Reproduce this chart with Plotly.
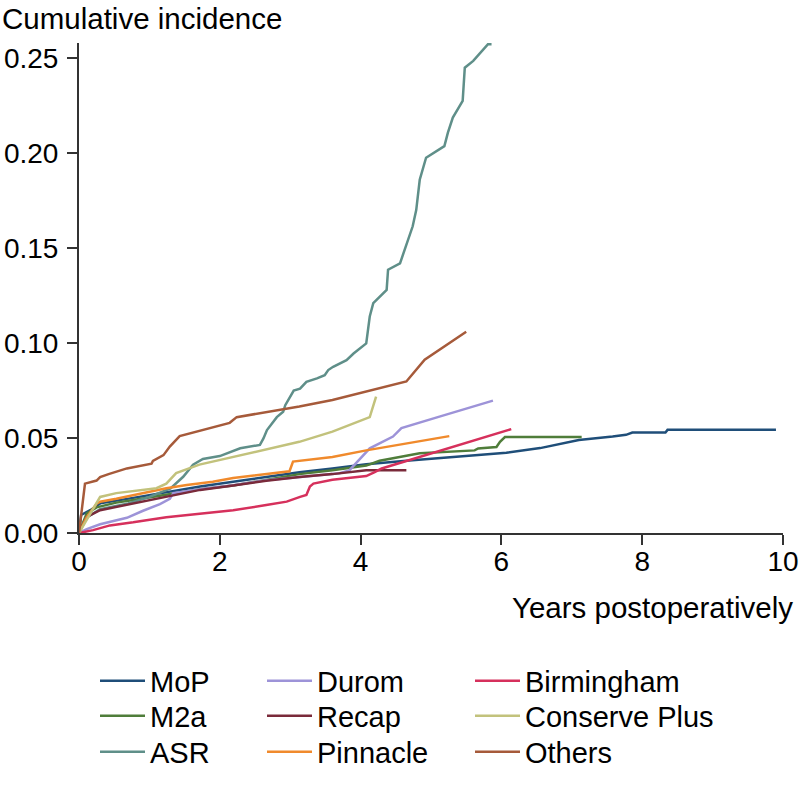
import plotly.graph_objects as go

# Cumulative incidence curves
mop_x = [0, 0.03, 0.16, 0.3, 0.77, 1.24, 1.72, 2.19, 2.66, 3.13, 3.6, 4.08, 4.65, 5.12, 5.6, 6.07, 6.55, 7.1, 7.58, 7.77, 7.86, 8.33, 8.36, 9.9]
mop_y = [0, 0.0095, 0.012, 0.0156, 0.0185, 0.0215, 0.0245, 0.027, 0.0295, 0.032, 0.034, 0.0362, 0.038, 0.0395, 0.041, 0.0423, 0.0447, 0.049, 0.0508, 0.0517, 0.0529, 0.0529, 0.0543, 0.0543]

m2a_x = [0, 0.11, 0.25, 0.53, 0.77, 1.24, 1.72, 2.19, 2.66, 3.13, 3.6, 4.08, 4.27, 4.7, 4.84, 5.62, 5.67, 5.93, 5.98, 6.05, 7.14]
m2a_y = [0, 0.0103, 0.0135, 0.016, 0.0174, 0.020, 0.023, 0.025, 0.028, 0.031, 0.033, 0.0355, 0.038, 0.041, 0.042, 0.0435, 0.0445, 0.0453, 0.048, 0.0505, 0.0505]

asr_x = [0, 0.1, 0.3, 0.7, 1.0, 1.3, 1.48, 1.62, 1.76, 2.0, 2.29, 2.57, 2.62, 2.67, 2.81, 2.9, 2.93, 3.0, 3.05, 3.14, 3.23, 3.38, 3.49, 3.54, 3.61, 3.8, 3.9, 4.08, 4.13, 4.18, 4.37, 4.39, 4.56, 4.74, 4.79, 4.84, 4.93, 5.19, 5.24, 5.31, 5.45, 5.48, 5.6, 5.81, 5.86]
asr_y = [0, 0.008, 0.0125, 0.0155, 0.019, 0.0235, 0.0296, 0.036, 0.039, 0.0405, 0.0446, 0.0464, 0.0498, 0.0542, 0.061, 0.0638, 0.0673, 0.0717, 0.075, 0.076, 0.0796, 0.0814, 0.0831, 0.0858, 0.0875, 0.091, 0.0945, 0.0998, 0.114, 0.121, 0.128, 0.1386, 0.142, 0.1615, 0.170, 0.186, 0.1976, 0.2037, 0.2108, 0.2187, 0.2275, 0.245, 0.2486, 0.2574, 0.2574]

durom_x = [0, 0.11, 0.3, 0.68, 0.91, 1.15, 1.29, 1.34, 1.72, 2.19, 2.66, 3.13, 3.7, 3.84, 4.13, 4.46, 4.58, 5.12, 5.88]
durom_y = [0, 0.002, 0.0046, 0.008, 0.0117, 0.0152, 0.018, 0.021, 0.023, 0.0251, 0.0278, 0.0296, 0.0315, 0.033, 0.0446, 0.0508, 0.0552, 0.0613, 0.0697]

recap_x = [0, 0.11, 0.3, 0.77, 1.24, 1.72, 2.19, 2.66, 3.13, 3.6, 4.08, 4.65]
recap_y = [0, 0.0085, 0.012, 0.0156, 0.019, 0.0227, 0.025, 0.0275, 0.0295, 0.031, 0.033, 0.033]

pinnacle_x = [0, 0.11, 0.25, 0.3, 0.53, 0.77, 1.0, 1.24, 1.53, 1.9, 2.19, 2.99, 3.04, 3.6, 4.08, 4.55, 5.26]
pinnacle_y = [0, 0.0083, 0.0154, 0.0165, 0.018, 0.020, 0.0218, 0.0236, 0.0253, 0.027, 0.029, 0.0325, 0.0376, 0.040, 0.0435, 0.0464, 0.051]

birm_x = [0, 0.2, 0.44, 0.77, 1.24, 1.72, 2.19, 2.66, 2.95, 3.14, 3.23, 3.28, 3.33, 3.6, 4.08, 4.2, 4.3, 6.14]
birm_y = [0, 0.0015, 0.004, 0.0056, 0.0083, 0.0103, 0.012, 0.0147, 0.0165, 0.019, 0.020, 0.0245, 0.026, 0.028, 0.030, 0.032, 0.034, 0.0547]

conserve_x = [0, 0.13, 0.25, 0.3, 0.53, 0.86, 1.1, 1.24, 1.38, 1.71, 2.18, 2.66, 3.13, 3.6, 4.13, 4.22]
conserve_y = [0, 0.0085, 0.0156, 0.019, 0.021, 0.0227, 0.0236, 0.026, 0.0315, 0.036, 0.040, 0.0437, 0.048, 0.0534, 0.061, 0.0718]

others_x = [0, 0.085, 0.25, 0.3, 0.42, 0.68, 1.03, 1.05, 1.2, 1.29, 1.43, 1.53, 1.91, 2.14, 2.24, 2.66, 3.13, 3.6, 4.27, 4.65, 4.91, 5.5]
others_y = [0, 0.026, 0.0276, 0.0294, 0.031, 0.034, 0.0365, 0.038, 0.041, 0.0455, 0.051, 0.052, 0.056, 0.058, 0.061, 0.0636, 0.0666, 0.070, 0.0763, 0.0798, 0.0913, 0.106]

names = ["MoP", "M2a", "ASR", "Durom", "Recap", "Pinnacle", "Birmingham", "Conserve Plus", "Others"]
xs = [mop_x, m2a_x, asr_x, durom_x, recap_x, pinnacle_x, birm_x, conserve_x, others_x]
ys = [mop_y, m2a_y, asr_y, durom_y, recap_y, pinnacle_y, birm_y, conserve_y, others_y]
colors = ["#1f4e79", "#4f7d3a", "#5f8f89", "#9d93d8", "#7a2a3a", "#f08a2c", "#d6305c", "#c2c27c", "#a65a3a"]

# legend grid: 3 columns x 3 rows, pixel positions in the page
col_px = [95, 262, 470]
row_px = [681, 716, 752]

FONT = "Liberation Sans, Arial, Helvetica, sans-serif"

fig = go.Figure()
legends = {}
for i in range(len(names)):
    lid = "legend" if i == 0 else "legend%d" % (i + 1)
    fig.add_trace(go.Scatter(
        x=xs[i], y=ys[i], mode="lines", name=names[i],
        line=dict(color=colors[i], width=2.5),
        legend=lid,
    ))
    col, row = i // 3, i % 3
    legends[lid] = dict(
        x=(col_px[col] - 79) / 704, y=(533 - row_px[row]) / 490,
        xanchor="left", yanchor="middle",
        font=dict(size=29), itemwidth=45, bgcolor="rgba(0,0,0,0)",
    )

fig.update_layout(
    width=800, height=787, autosize=False,
    margin=dict(l=79, r=17, t=43, b=254, autoexpand=False),
    plot_bgcolor="white", paper_bgcolor="white",
    font=dict(family=FONT, size=28, color="black"),
    showlegend=True,
    **legends,
)

fig.update_xaxes(
    range=[0, 10], tickvals=[0, 2, 4, 6, 8, 10], automargin=False,
    showline=True, linecolor="#333333", linewidth=2,
    ticks="outside", ticklen=10, tickwidth=2, tickcolor="#333333",
    ticklabelstandoff=-8,
    showgrid=False, zeroline=False,
)
fig.update_yaxes(
    range=[0, 0.258], tickvals=[0, 0.05, 0.10, 0.15, 0.20, 0.25], tickformat=".2f",
    automargin=False,
    showline=True, linecolor="#333333", linewidth=2,
    ticks="outside", ticklen=10, tickwidth=2, tickcolor="#333333",
    ticklabelstandoff=3,
    showgrid=False, zeroline=False,
)

fig.add_annotation(text="Cumulative incidence", xref="paper", yref="paper",
                   x=-0.112, y=1.051, xanchor="left", yanchor="middle",
                   showarrow=False, font=dict(size=29.5))
fig.add_annotation(text="Years postoperatively", xref="paper", yref="paper",
                   x=1.017, y=-0.152, xanchor="right", yanchor="middle",
                   showarrow=False, font=dict(size=29.5))

# page body has a default 8px margin; drop it so the figure sits at 0,0
fig.write_html("out.html", config={"displayModeBar": False},
               post_script="document.body.style.margin='0';")
